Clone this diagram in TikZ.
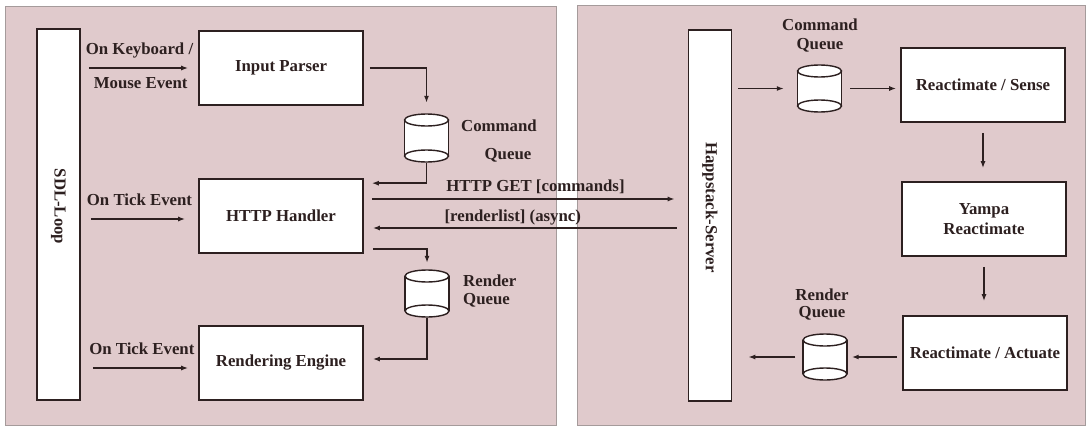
\documentclass[tikz,border=0pt]{standalone}
\usepackage{fontspec}
\setmainfont{Liberation Serif}
\usepackage{graphicx}
\usetikzlibrary{positioning,arrows.meta,calc}
\definecolor{panel}{RGB}{224,202,204}
\definecolor{rim}{RGB}{165,155,155}
\definecolor{ink}{RGB}{45,32,32}

\begin{document}
\begin{tikzpicture}[x=1pt, y=-1pt,
  every node/.style={font=\fontsize{16.8}{19}\selectfont\bfseries, text=ink},
  box/.style={draw=ink, line width=1.6pt, fill=white, minimum width=164pt, minimum height=74pt, inner sep=0pt, align=center},
  bar/.style={draw=ink, line width=1.6pt, fill=white, minimum width=43pt, minimum height=371pt, inner sep=0pt},
  queue/.style={minimum width=47pt, minimum height=50pt, inner sep=0pt,
    path picture={
      \coordinate (qt) at ([yshift=-7pt]path picture bounding box.north);
      \coordinate (qb) at ([yshift=7pt]path picture bounding box.south);
      \fill[white] ([xshift=-22pt]qt) rectangle ([xshift=22pt]qb);
      \filldraw[fill=white, draw=ink, line width=1.4pt] (qb) ellipse [x radius=22pt, y radius=6pt];
      \filldraw[fill=white, draw=ink, line width=1.4pt] (qt) ellipse [x radius=22pt, y radius=6pt];
      \draw[ink, line width=1.4pt] ([xshift=-22pt]qt) -- ([xshift=-22pt]qb) ([xshift=22pt]qt) -- ([xshift=22pt]qb);
    }},
  flow/.style={draw=ink, line width=1.5pt, -{Latex[length=7pt,width=5pt]}},
  qlabel/.style={inner sep=0pt, align=center, font=\fontsize{16.8}{18}\selectfont\bfseries}]

  \fill[white] (0,0) rectangle (1091,431);
  \useasboundingbox (0,0) rectangle (1091,431);
  \draw[rim, fill=panel] (5,6) rectangle (556,425);
  \draw[rim, fill=panel] (577,5) rectangle (1085,425);

  % client side
  \node[bar] (sdl) at (58.5,214.5) {\rotatebox{-90}{SDL-Loop\hspace{16pt}}};
  \node[box] (ip) at (281,68) {Input Parser};
  \node[box] (hh) at (281,216) {HTTP Handler};
  \node[box] (re) at (281,363) {Rendering Engine};
  \node[queue] (cq1) at (426.5,138) {};
  \node[queue, minimum height=49pt] (rq1) at (427,293.5) {};
  \node[qlabel] (cq1a) at (499,126) {Command};
  \node[qlabel] (cq1b) at (508,155) {Queue};
  \node[qlabel, anchor=west, align=left] (rq1l) at (463,291) {Render\\Queue};

  % server side
  \node[bar] (hs) at (710,215.5) {\rotatebox{-90}{Happstack-Server\hspace{16pt}}};
  \node[box] (rs) at (983,85) {Reactimate / Sense};
  \node[box, font=\fontsize{16.8}{20}\selectfont\bfseries] (yr) at (984,219) {Yampa\\Reactimate};
  \node[box] (ra) at (985,353) {Reactimate / Actuate};
  \node[queue, minimum height=49pt] (cq2) at (819.5,88.5) {};
  \node[queue, minimum height=48pt] (rq2) at (825,357) {};
  \node[qlabel, font=\fontsize{16.8}{19}\selectfont\bfseries] (cq2l) at (820,35.5) {Command\\Queue};
  \node[qlabel, font=\fontsize{16.8}{17}\selectfont\bfseries] (rq2l) at (822,304.5) {Render\\Queue};

  \draw[flow, shorten <=8pt, shorten >=10pt] (sdl.east |- ip.west) -- (ip.west)
    node[pos=0.5, yshift=18pt] {On Keyboard /}
    node[pos=0.51, yshift=-15pt] {Mouse Event};
  \draw[flow, shorten <=10pt, shorten >=13pt] ([yshift=-3pt]hh.west -| sdl.east) -- ([yshift=-3pt]hh.west)
    node[pos=0.5, yshift=19pt] {On Tick Event};
  \draw[flow, shorten <=12pt, shorten >=10pt] ([yshift=-5pt]re.west -| sdl.east) -- ([yshift=-5pt]re.west)
    node[pos=0.52, yshift=19pt] {On Tick Event};

  \draw[flow, shorten <=6pt, shorten >=10pt] (ip.east) -| (cq1.north);
  \draw[flow, shorten >=8pt] (cq1.south) |- ([yshift=-5pt]hh.north east);
  \coordinate (get) at (0,199);
  \coordinate (ret) at (0,228);
  \draw[flow, shorten <=8pt, shorten >=13pt] (hh.east |- get) -- (hs.west |- get)
    node[pos=0.53, yshift=12pt] {HTTP GET [commands]};
  \draw[flow, shorten <=11pt, shorten >=9pt] (hs.west |- ret) -- (hh.east |- ret)
    node[pos=0.54, yshift=11pt] {[renderlist] (async)};
  \draw[flow, shorten <=9pt, shorten >=6pt] ([yshift=5pt]hh.south east) -| (rq1.north);
  \draw[flow, shorten >=9pt] (rq1.south) |- ([yshift=4pt]re.east);

  \draw[flow, shorten <=6pt, shorten >=12pt] (hs.east |- cq2.west) -- (cq2.west);
  \draw[flow, shorten <=7pt, shorten >=4pt] (cq2.east) -- (cq2.east -| rs.west);
  \draw[flow, shorten <=10pt, shorten >=13pt] (rs.south) -- (rs.south |- yr.north);
  \draw[flow, shorten <=10pt, shorten >=14pt] (yr.south) -- (yr.south |- ra.north);
  \draw[flow, shorten <=5pt, shorten >=3pt] (ra.west |- rq2.east) -- (rq2.east);
  \draw[flow, shorten <=6pt, shorten >=16pt] (rq2.west) -- (rq2.west -| hs.east);
\end{tikzpicture}
\end{document}
